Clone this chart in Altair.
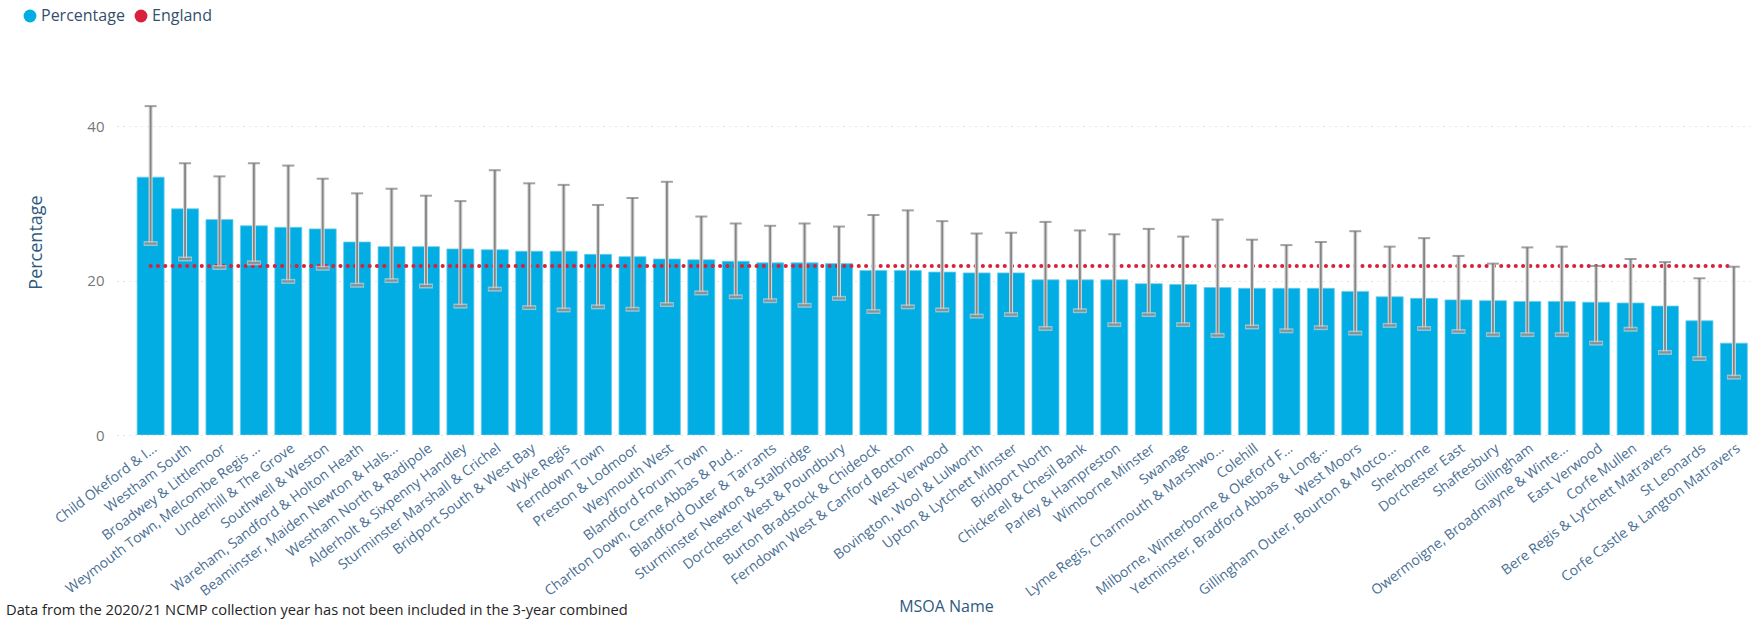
import json
import altair as alt
import pandas as pd

# MSOA names as shown on the category axis
names = [
    "Child Okeford & I...", "Westham South", "Broadwey & Littlemoor",
    "Weymouth Town, Melcombe Regis ...", "Underhill & The Grove", "Southwell & Weston",
    "Wareham, Sandford & Holton Heath", "Beaminster, Maiden Newton & Hals...",
    "Westham North & Radipole", "Alderholt & Sixpenny Handley",
    "Sturminster Marshall & Crichel", "Bridport South & West Bay", "Wyke Regis",
    "Ferndown Town", "Preston & Lodmoor", "Weymouth West", "Blandford Forum Town",
    "Charlton Down, Cerne Abbas & Pud...", "Blandford Outer & Tarrants",
    "Sturminster Newton & Stalbridge", "Dorchester West & Poundbury",
    "Burton Bradstock & Chideock", "Ferndown West & Canford Bottom", "West Verwood",
    "Bovington, Wool & Lulworth", "Upton & Lytchett Minster", "Bridport North",
    "Chickerell & Chesil Bank", "Parley & Hampreston", "Wimborne Minster", "Swanage",
    "Lyme Regis, Charmouth & Marshwo...", "Colehill", "Milborne, Winterborne & Okeford F...",
    "Yetminster, Bradford Abbas & Long...", "West Moors",
    "Gillingham Outer, Bourton & Motco...", "Sherborne", "Dorchester East", "Shaftesbury",
    "Gillingham", "Owermoigne, Broadmayne & Winte...", "East Verwood", "Corfe Mullen",
    "Bere Regis & Lytchett Matravers", "St Leonards", "Corfe Castle & Langton Matravers",
]

# Percentage per MSOA with lower / upper confidence limits
percentage = [
    33.4, 29.3, 27.9, 27.1, 26.9, 26.7, 25.0, 24.4, 24.4, 24.1, 24.0, 23.8, 23.8, 23.4,
    23.1, 22.8, 22.7, 22.5, 22.3, 22.3, 22.2, 21.3, 21.3, 21.1, 21.0, 21.0, 20.1, 20.1,
    20.1, 19.6, 19.5, 19.1, 19.0, 19.0, 19.0, 18.6, 17.9, 17.7, 17.5, 17.4, 17.3, 17.3,
    17.2, 17.1, 16.7, 14.8, 11.9,
]
lower_ci = [
    24.8, 22.8, 21.7, 22.3, 19.9, 21.6, 19.4, 20.0, 19.3, 16.7, 18.9, 16.5, 16.2, 16.6,
    16.3, 16.9, 18.4, 17.9, 17.4, 16.8, 17.7, 16.0, 16.6, 16.2, 15.4, 15.6, 13.8, 16.1,
    14.3, 15.6, 14.3, 12.9, 14.0, 13.5, 13.9, 13.2, 14.2, 13.8, 13.4, 13.0, 13.0, 13.0,
    11.9, 13.7, 10.7, 9.9, 7.5,
]
upper_ci = [
    42.6, 35.2, 33.5, 35.2, 34.9, 33.2, 31.3, 31.9, 31.0, 30.3, 34.3, 32.6, 32.4, 29.8,
    30.7, 32.8, 28.3, 27.4, 27.1, 27.4, 27.0, 28.5, 29.1, 27.7, 26.1, 26.2, 27.6, 26.5,
    26.0, 26.7, 25.7, 27.9, 25.3, 24.6, 25.0, 26.4, 24.4, 25.5, 23.2, 22.2, 24.3, 24.4,
    21.9, 22.8, 22.4, 20.3, 21.8,
]
england = 21.9

series_names = ["Percentage", "England"]
series_colors = ["#01ADE3", "#D9213B"]
note = ["Data from the 2020/21 NCMP collection year has not been included in the 3-year combined"]

FONT = "Open Sans"
AXIS_BLUE = "#2E5A80"
LABEL_BLUE = "#4A6F94"

df = pd.DataFrame({
    "idx": list(range(len(names))),
    "name": names,
    "pct": percentage,
    "lo": lower_ci,
    "hi": upper_ci,
    "series": "Percentage",
})
eng = pd.DataFrame({"idx": [0, len(names) - 1], "val": [england, england]})
note_df = pd.DataFrame({"txt": note})

label_expr = json.dumps(names) + "[datum.value]"

x_scale = alt.Scale(domain=[-0.8316, 46.324], nice=False, zero=False)
y_scale = alt.Scale(domain=[0, 50], nice=False)

x_axis = alt.Axis(
    values=list(range(len(names))), labelExpr=label_expr, title="MSOA Name",
    labelAngle=-37, labelAlign="right", labelBaseline="top", labelPadding=6,
    labelFont=FONT, labelFontSize=14, labelColor=LABEL_BLUE, labelLimit=400,
    labelOverlap=False, labelBound=False, labelFlush=False, labelSeparation=0,
    ticks=False, domain=False, grid=False,
    titleFont=FONT, titleFontSize=16, titleFontWeight="normal", titleColor=AXIS_BLUE,
    titleX=829, titleY=171, titleAlign="center", titleBaseline="middle",
)
y_axis = alt.Axis(
    values=[0, 20, 40], title="Percentage", ticks=False, domain=False,
    grid=True, gridColor="#C8C8C8", gridDash=[1, 5], gridWidth=1,
    labelFont=FONT, labelFontSize=15, labelColor="#777777", labelPadding=13,
    titleFont=FONT, titleFontSize=18, titleFontWeight="normal", titleColor=AXIS_BLUE,
    titleX=-81, titleY=193, titleAlign="center", titleBaseline="middle", titleAngle=-90,
)

base = alt.Chart(df)

bars = base.mark_bar(width=27, clip=True, stroke="#6ACDEE", strokeWidth=0.8).encode(
    y=alt.Y("pct:Q", scale=y_scale, axis=y_axis),
    color=alt.Color(
        "series:N",
        scale=alt.Scale(domain=series_names, range=series_colors),
        legend=alt.Legend(
            title=None, orient="none", direction="horizontal", legendX=-95, legendY=-41,
            symbolType="circle", symbolSize=165, symbolStrokeWidth=0, symbolOpacity=1,
            labelFont=FONT, labelFontSize=16, labelColor="#35506B", labelOffset=3,
            columnPadding=8,
        ),
    ),
)

england_line = alt.Chart(eng).mark_line(
    color=series_colors[1], strokeWidth=4, strokeDash=[0.1, 7.2], strokeCap="round"
).encode(y=alt.Y("val:Q", scale=y_scale))

halo = base.mark_rule(color="#D6D6D6", strokeWidth=4, clip=True).encode(
    y=alt.Y("lo:Q", scale=y_scale), y2="hi:Q"
)
whisker = base.mark_rule(color="#858585", strokeWidth=1.8, clip=True).encode(
    y=alt.Y("lo:Q", scale=y_scale), y2="hi:Q"
)
cap_hi = base.mark_tick(orient="horizontal", size=12, thickness=2, color="#7A7A7A", clip=True).encode(
    y=alt.Y("hi:Q", scale=y_scale)
)
cap_lo_box = base.mark_tick(orient="horizontal", size=14, thickness=5, color="#D0D0D0", clip=True).encode(
    y=alt.Y("lo:Q", scale=y_scale)
)
cap_lo = base.mark_tick(orient="horizontal", size=12, thickness=2, color="#7A7A7A", clip=True).encode(
    y=alt.Y("lo:Q", scale=y_scale)
)

footnote = alt.Chart(note_df).mark_text(
    align="left", baseline="middle", font=FONT, fontSize=14.7, color="#252525"
).encode(text="txt:N", x=alt.value(-111), y=alt.value(562))

chart = alt.layer(
    bars, england_line, halo, whisker, cap_hi, cap_lo_box, cap_lo, footnote
).encode(
    x=alt.X("idx:Q", scale=x_scale, axis=x_axis)
).properties(
    width=1633, height=386,
    autosize=alt.AutoSizeParams(type="none"),
    padding={"left": 117, "top": 49, "right": 0, "bottom": 186},
    background="white",
).configure_view(
    strokeWidth=0
).configure_axisX(
    labelOverlap=False
)

chart.save("out.html", embed_options={"renderer": "svg", "actions": False})
